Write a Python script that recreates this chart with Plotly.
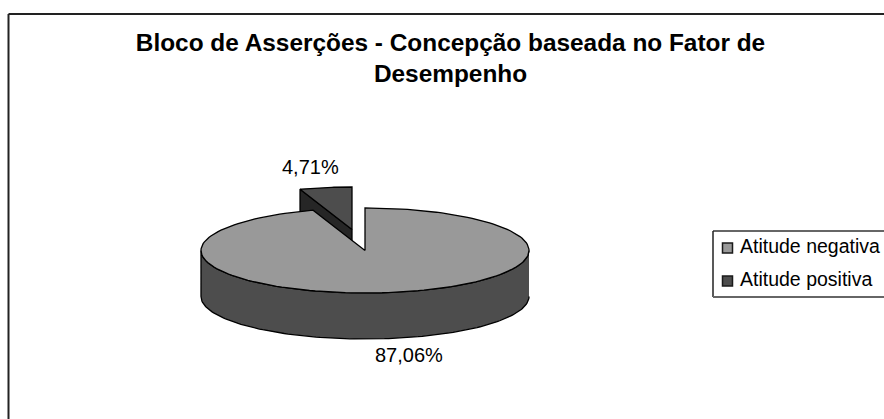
import numpy as np
import plotly.graph_objects as go

# Data
categories = ["Atitude negativa", "Atitude positiva"]
values = [87.06, 4.71]
value_labels = ["87,06%", "4,71%"]
title_lines = ["Bloco de Asserções - Concepção baseada no Fator de", "Desempenho"]

# Style / geometry (pixels)
W, H = 884, 419
CX, CY, RX, RY = 365, 250.5, 164, 42.5   # pie centre and radii
DEPTH = 46 / RY                          # pie thickness in y units
EXPLODE = (-13 / RX, 21 / RY)            # offset of the pulled-out slice
LIGHT, DARK, CUT, EDGE = "#999999", "#4d4d4d", "#262626", "#000000"
FONT = "Liberation Sans, Arial, sans-serif"


def ux(p):
    return (p - CX) / RX


def uy(p):
    return (CY - p) / RY


def fx(p):
    return p / W


def fy(p):
    return 1 - p / H


# Slice angles from the values (clockwise from 12 o'clock)
total = sum(values)
end_light = 2 * np.pi * values[0] / total
a_light = np.linspace(0, end_light, 160)
a_dark = np.linspace(end_light, 2 * np.pi, 30)


def poly(x, y, fill):
    return go.Scatter(x=list(x), y=list(y), mode="lines", fill="toself", fillcolor=fill,
                      line=dict(color=EDGE, width=1.3), hoverinfo="skip", showlegend=False)


fig = go.Figure()

# pulled-out slice: cut face and top
ex, ey = EXPLODE
sx, sy = np.sin(end_light), np.cos(end_light)
fig.add_trace(poly([ex + sx, ex, ex, ex + sx, ex + sx],
                   [ey + sy, ey, ey - DEPTH, ey + sy - DEPTH, ey + sy], CUT))
fig.add_trace(poly(np.r_[ex, ex + np.sin(a_dark), ex], np.r_[ey, ey + np.cos(a_dark), ey], DARK))

# large slice: front wall and top
a_front = np.linspace(np.pi / 2, 3 * np.pi / 2, 120)
fig.add_trace(poly(np.r_[np.sin(a_front), np.sin(a_front[::-1])],
                   np.r_[np.cos(a_front), np.cos(a_front[::-1]) - DEPTH], DARK))
fig.add_trace(poly(np.r_[0, np.sin(a_light), 0], np.r_[0, np.cos(a_light), 0], LIGHT))

# legend entries, inside the legend box
for name, col, ypx in zip(categories, [LIGHT, DARK], [248, 281]):
    fig.add_trace(go.Scatter(x=[ux(727.5)], y=[uy(ypx)], mode="markers", hoverinfo="skip", showlegend=False,
                             marker=dict(symbol="square", size=10, color=col,
                                         line=dict(color="#1a1a1a", width=1.5))))
    fig.add_trace(go.Scatter(x=[ux(740)], y=[uy(ypx)], mode="text", text=[name],
                             textposition="middle right", hoverinfo="skip", showlegend=False,
                             textfont=dict(family=FONT, size=19.5, color="#000000")))

for text, xp, yp in [(value_labels[0], 409, 355), (value_labels[1], 310, 167)]:
    fig.add_annotation(x=fx(xp), y=fy(yp), xref="paper", yref="paper", xanchor="center", yanchor="middle",
                       text=text, showarrow=False, font=dict(family=FONT, size=20, color="#000000"))


def line(x0, y0, x1, y1, color, width):
    return dict(type="line", xref="paper", yref="paper", x0=fx(x0), y0=fy(y0), x1=fx(x1), y1=fy(y1),
                line=dict(color=color, width=width), layer="below")


fig.update_layout(
    width=W, height=H,
    margin=dict(l=0, r=0, t=0, b=0, autoexpand=False),
    paper_bgcolor="#ffffff", plot_bgcolor="#ffffff",
    showlegend=False,
    title=dict(text="<b>" + "<br>".join(title_lines) + "</b>", x=fx(450.5), xanchor="center",
               y=fy(50.5), yanchor="middle", font=dict(family=FONT, size=24.4, color="#000000")),
    xaxis=dict(visible=False, range=[ux(0), ux(W)], fixedrange=True),
    yaxis=dict(visible=False, range=[uy(H), uy(0)], fixedrange=True),
    shapes=[
        line(8.5, 14, W, 14, "#222222", 2),
        line(8.5, 14, 8.5, H, "#222222", 2),
        line(713, 231, W, 231, "#333333", 1.5),
        line(713, 231, 713, 297, "#222222", 1.5),
        line(713, 297, W, 297, "#666666", 2),
    ],
)

fig.write_html("out.html", config={"displayModeBar": False},
               post_script="document.body.style.margin='0';")
